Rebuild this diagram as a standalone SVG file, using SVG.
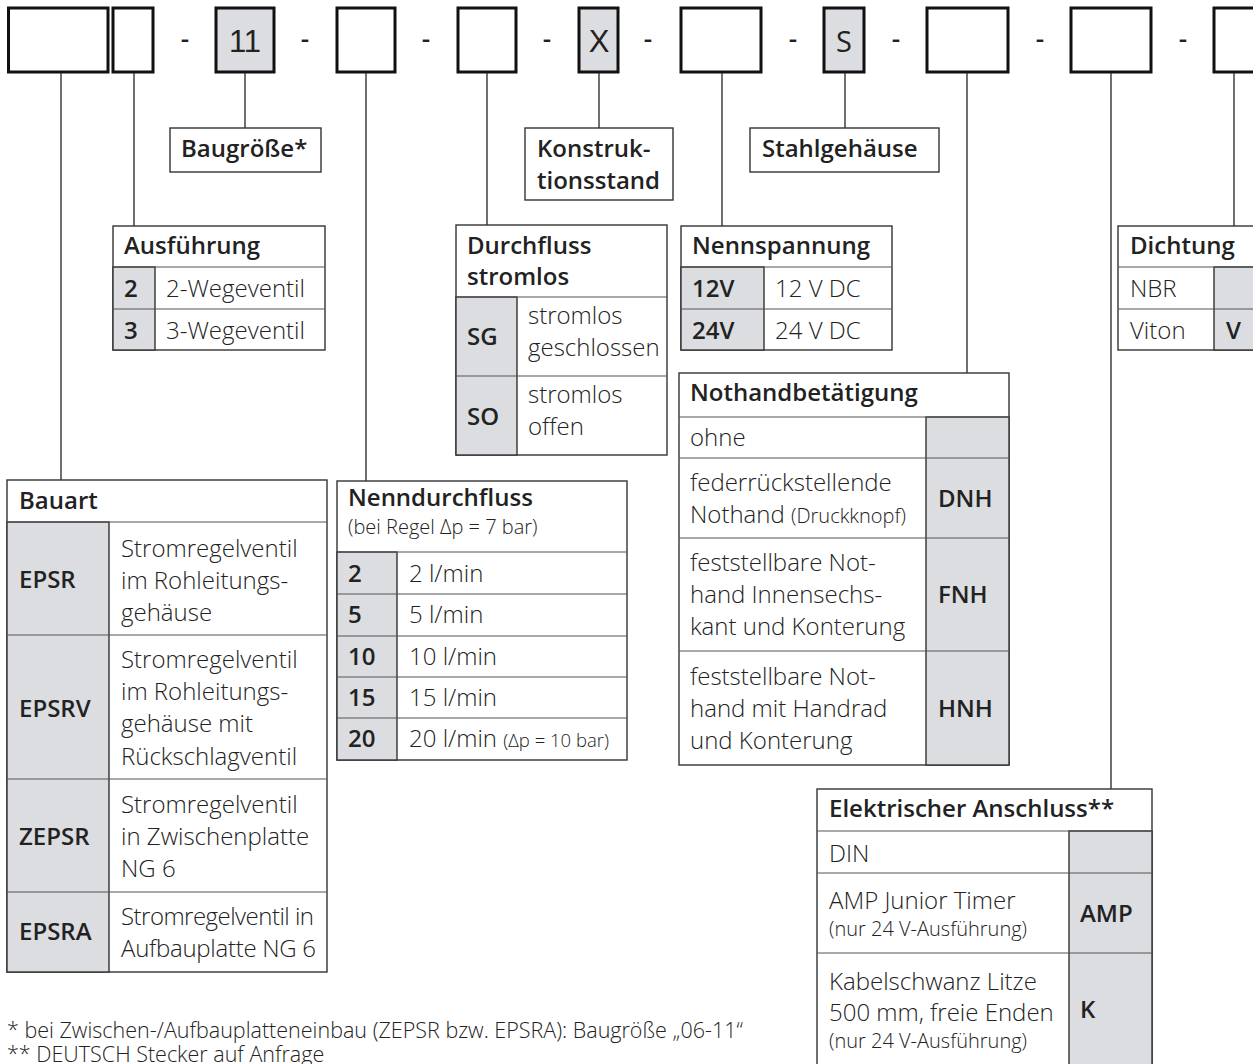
<svg xmlns="http://www.w3.org/2000/svg" width="1253" height="1064" viewBox="0 0 1253 1064">
<style>
text{font-family:"Open Sans","Noto Sans","Liberation Sans",sans-serif;fill:#222}
.t{font-size:24px;font-weight:300}
.b{font-size:24px;font-weight:600}
.s{font-size:20px;font-weight:300}
.f{font-size:21.5px;font-weight:300}
.dash{font-size:26px;font-weight:600;text-anchor:middle}
.code{font-family:"Liberation Sans Narrow","Liberation Sans",sans-serif;font-size:31px;text-anchor:middle}
.top{fill:#fff;stroke:#111;stroke-width:3}
.topg{fill:#dcdde0;stroke:#111;stroke-width:3}
.box{fill:#fff;stroke:#333;stroke-width:1.4}
.g{fill:#dcdde0;stroke:#333;stroke-width:1.4}
.ln{stroke:#555;stroke-width:1.2;fill:none}
.c{stroke:#333;stroke-width:1.4;fill:none}
</style>
<rect width="1253" height="1064" fill="#fff"/>

<g id="code-row">
<rect class="top" x="8.5" y="8" width="99.5" height="64"/>
<rect class="top" x="113" y="8" width="40" height="64"/>
<text class="dash" x="185" y="48">-</text>
<rect class="topg" x="216" y="8" width="58" height="64"/>
<text class="code" x="245" y="52">11</text>
<text class="dash" x="305" y="48">-</text>
<rect class="top" x="337" y="8" width="58" height="64"/>
<text class="dash" x="426" y="48">-</text>
<rect class="top" x="458" y="8" width="58" height="64"/>
<text class="dash" x="547" y="48">-</text>
<rect class="topg" x="579" y="8" width="39" height="64"/>
<text class="code" x="599" y="52">X</text>
<text class="dash" x="648" y="48">-</text>
<rect class="top" x="681" y="8" width="80" height="64"/>
<text class="dash" x="793" y="48">-</text>
<rect class="topg" x="824" y="8" width="40" height="64"/>
<text x="844" y="52" style="font-size:29px;font-weight:400;text-anchor:middle">S</text>
<text class="dash" x="896" y="48">-</text>
<rect class="top" x="927" y="8" width="81" height="64"/>
<text class="dash" x="1040" y="48">-</text>
<rect class="top" x="1071" y="8" width="80" height="64"/>
<text class="dash" x="1183" y="48">-</text>
<rect class="top" x="1214" y="8" width="60" height="64"/>
</g>

<g id="connectors">
<line class="c" x1="61" y1="73" x2="61" y2="480"/>
<line class="c" x1="134" y1="73" x2="134" y2="226"/>
<line class="c" x1="245" y1="73" x2="245" y2="128"/>
<line class="c" x1="366" y1="73" x2="366" y2="481"/>
<line class="c" x1="487" y1="73" x2="487" y2="225"/>
<line class="c" x1="599" y1="73" x2="599" y2="128"/>
<line class="c" x1="722" y1="73" x2="722" y2="226"/>
<line class="c" x1="845" y1="73" x2="845" y2="128"/>
<line class="c" x1="967" y1="73" x2="967" y2="373"/>
<line class="c" x1="1111" y1="73" x2="1111" y2="789"/>
<line class="c" x1="1234" y1="73" x2="1234" y2="226"/>
</g>

<g id="baugroesse">
<rect class="box" x="170" y="128" width="151" height="44"/>
<text class="b" x="181" y="157">Baugröße*</text>
</g>

<g id="konstruktionsstand">
<rect class="box" x="525" y="128" width="148" height="72"/>
<text class="b" x="537" y="157">Konstruk-</text>
<text class="b" x="537" y="189">tionsstand</text>
</g>

<g id="stahlgehaeuse">
<rect class="box" x="750" y="128" width="189" height="44"/>
<text class="b" x="762" y="157">Stahlgehäuse</text>
</g>

<g id="ausfuehrung">
<rect class="box" x="113" y="226" width="212" height="124"/>
<rect class="g" x="113" y="267" width="42" height="83"/>
<line class="ln" x1="113" y1="267" x2="325" y2="267"/>
<line class="ln" x1="113" y1="309" x2="325" y2="309"/>
<text class="b" x="124" y="254">Ausführung</text>
<text class="b" x="124" y="297">2</text>
<text class="t" x="166" y="297">2-Wegeventil</text>
<text class="b" x="124" y="339">3</text>
<text class="t" x="166" y="339">3-Wegeventil</text>
</g>

<g id="durchfluss-stromlos">
<rect class="box" x="456" y="225" width="211" height="230"/>
<rect class="g" x="456" y="297" width="61" height="158"/>
<line class="ln" x1="456" y1="297" x2="667" y2="297"/>
<line class="ln" x1="456" y1="376" x2="667" y2="376"/>
<text class="b" x="467" y="254">Durchfluss</text>
<text class="b" x="467" y="285">stromlos</text>
<text class="b" x="467" y="345">SG</text>
<text class="t" x="528" y="324">stromlos</text>
<text class="t" x="528" y="356">geschlossen</text>
<text class="b" x="467" y="425">SO</text>
<text class="t" x="528" y="403">stromlos</text>
<text class="t" x="528" y="435">offen</text>
</g>

<g id="nennspannung">
<rect class="box" x="681" y="226" width="211" height="124"/>
<rect class="g" x="681" y="267" width="83" height="83"/>
<line class="ln" x1="681" y1="267" x2="892" y2="267"/>
<line class="ln" x1="681" y1="309" x2="892" y2="309"/>
<text class="b" x="692" y="254">Nennspannung</text>
<text class="b" x="692" y="297">12V</text>
<text class="t" x="775" y="297">12 V DC</text>
<text class="b" x="692" y="339">24V</text>
<text class="t" x="775" y="339">24 V DC</text>
</g>

<g id="dichtung">
<rect class="box" x="1118" y="226" width="150" height="124"/>
<rect class="g" x="1214" y="267" width="54" height="83"/>
<line class="ln" x1="1118" y1="267" x2="1268" y2="267"/>
<line class="ln" x1="1118" y1="309" x2="1268" y2="309"/>
<text class="b" x="1130" y="254">Dichtung</text>
<text class="t" x="1130" y="297">NBR</text>
<text class="t" x="1130" y="339">Viton</text>
<text class="b" x="1226" y="339">V</text>
</g>

<g id="nothandbetaetigung">
<rect class="box" x="679" y="373" width="330" height="392"/>
<rect class="g" x="926" y="417" width="83" height="348"/>
<line class="ln" x1="679" y1="417" x2="1009" y2="417"/>
<line class="ln" x1="679" y1="458" x2="1009" y2="458"/>
<line class="ln" x1="679" y1="538" x2="1009" y2="538"/>
<line class="ln" x1="679" y1="651" x2="1009" y2="651"/>
<text class="b" x="690" y="401">Nothandbetätigung</text>
<text class="t" x="690" y="446">ohne</text>
<text class="t" x="690" y="491">federrückstellende</text>
<text class="t" x="690" y="523">Nothand <tspan class="s">(Druckknopf)</tspan></text>
<text class="b" x="938" y="507">DNH</text>
<text class="t" x="690" y="571">feststellbare Not-</text>
<text class="t" x="690" y="603">hand Innensechs-</text>
<text class="t" x="690" y="635">kant und Konterung</text>
<text class="b" x="938" y="603">FNH</text>
<text class="t" x="690" y="685">feststellbare Not-</text>
<text class="t" x="690" y="717">hand mit Handrad</text>
<text class="t" x="690" y="749">und Konterung</text>
<text class="b" x="938" y="717">HNH</text>
</g>

<g id="bauart">
<rect class="box" x="7" y="480" width="320" height="492"/>
<rect class="g" x="7" y="522" width="102" height="450"/>
<line class="ln" x1="7" y1="522" x2="327" y2="522"/>
<line class="ln" x1="7" y1="635" x2="327" y2="635"/>
<line class="ln" x1="7" y1="779" x2="327" y2="779"/>
<line class="ln" x1="7" y1="892" x2="327" y2="892"/>
<text class="b" x="19" y="509">Bauart</text>
<text class="b" x="19" y="588">EPSR</text>
<text class="t" x="121" y="557">Stromregelventil</text>
<text class="t" x="121" y="589">im Rohleitungs-</text>
<text class="t" x="121" y="621">gehäuse</text>
<text class="b" x="19" y="717">EPSRV</text>
<text class="t" x="121" y="668">Stromregelventil</text>
<text class="t" x="121" y="700">im Rohleitungs-</text>
<text class="t" x="121" y="732">gehäuse mit</text>
<text class="t" x="121" y="765">Rückschlagventil</text>
<text class="b" x="19" y="845">ZEPSR</text>
<text class="t" x="121" y="813">Stromregelventil</text>
<text class="t" x="121" y="845">in Zwischenplatte</text>
<text class="t" x="121" y="877">NG 6</text>
<text class="b" x="19" y="940">EPSRA</text>
<text class="t" x="121" y="925" textLength="193" lengthAdjust="spacing">Stromregelventil in</text>
<text class="t" x="121" y="957" textLength="195" lengthAdjust="spacing">Aufbauplatte NG 6</text>
</g>

<g id="nenndurchfluss">
<rect class="box" x="337" y="481" width="290" height="279"/>
<rect class="g" x="337" y="552" width="60" height="208"/>
<line class="ln" x1="337" y1="552" x2="627" y2="552"/>
<line class="ln" x1="337" y1="594" x2="627" y2="594"/>
<line class="ln" x1="337" y1="636" x2="627" y2="636"/>
<line class="ln" x1="337" y1="677" x2="627" y2="677"/>
<line class="ln" x1="337" y1="718" x2="627" y2="718"/>
<text class="b" x="348" y="506">Nenndurchfluss</text>
<text class="s" x="348" y="534">(bei Regel Δp = 7 bar)</text>
<text class="b" x="348" y="582">2</text>
<text class="t" x="409" y="582">2 l/min</text>
<text class="b" x="348" y="623">5</text>
<text class="t" x="409" y="623">5 l/min</text>
<text class="b" x="348" y="665">10</text>
<text class="t" x="409" y="665">10 l/min</text>
<text class="b" x="348" y="706">15</text>
<text class="t" x="409" y="706">15 l/min</text>
<text class="b" x="348" y="747">20</text>
<text class="t" x="409" y="747">20 l/min <tspan style="font-size:18.5px">(Δp = 10 bar)</tspan></text>
</g>

<g id="elektrischer-anschluss">
<rect class="box" x="817" y="789" width="335" height="290"/>
<rect class="g" x="1069" y="831" width="83" height="248"/>
<line class="ln" x1="817" y1="831" x2="1152" y2="831"/>
<line class="ln" x1="817" y1="873" x2="1152" y2="873"/>
<line class="ln" x1="817" y1="953" x2="1152" y2="953"/>
<text class="b" x="829" y="817">Elektrischer Anschluss**</text>
<text class="t" x="829" y="862">DIN</text>
<text class="t" x="829" y="909">AMP Junior Timer</text>
<text class="s" x="829" y="936">(nur 24 V-Ausführung)</text>
<text class="b" x="1080" y="922">AMP</text>
<text class="t" x="829" y="990">Kabelschwanz Litze</text>
<text class="t" x="829" y="1021">500 mm, freie Enden</text>
<text class="s" x="829" y="1048">(nur 24 V-Ausführung)</text>
<text class="b" x="1080" y="1018">K</text>
</g>

<g id="footnotes">
<text class="f" x="7" y="1038">* bei Zwischen-/Aufbauplatteneinbau (ZEPSR bzw. EPSRA): Baugröße „06-11“</text>
<text class="f" x="7" y="1062">** DEUTSCH Stecker auf Anfrage</text>
</g>
</svg>
